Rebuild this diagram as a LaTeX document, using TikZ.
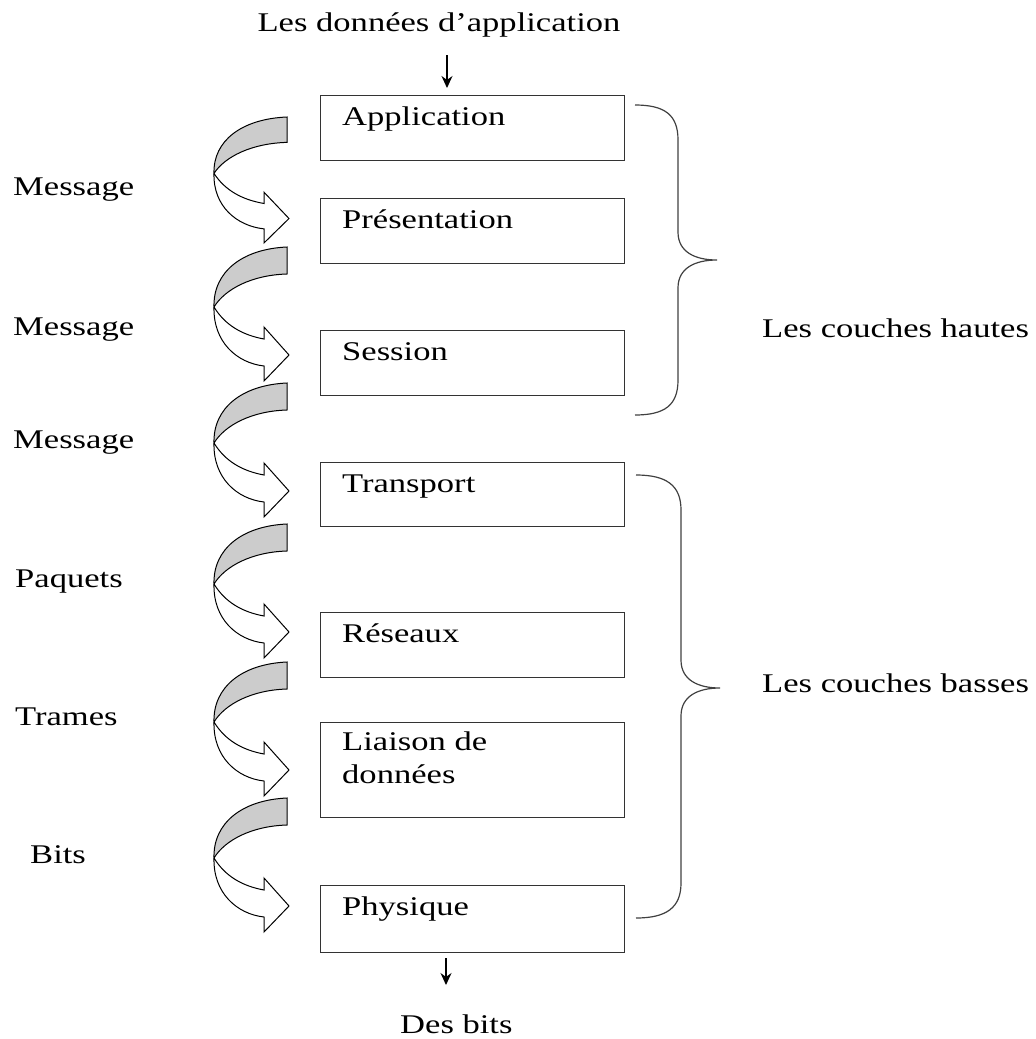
\documentclass[tikz,border=0pt]{standalone}
\usepackage{fontspec}
\setmainfont{Liberation Serif}[FakeStretch=1.28]
\usetikzlibrary{arrows.meta}

\begin{document}
\begin{tikzpicture}[
		x=1pt, y=-1pt,
		>={Stealth[length=12pt,width=11pt]},
		every node/.style={font=\fontsize{27}{33}\selectfont, inner sep=0pt},
		couche/.style={draw=black!80, line width=1.3pt, anchor=north west, minimum width=304pt},
		nom/.style={anchor=base west},
		accolade/.style={draw=black!75, line width=1.2pt},
		pics/renvoi/.style={code={
			\filldraw[fill=gray!40, draw=black, line width=1pt] (0,0) -- (0,27) .. controls (-35,28) and (-62,42) .. (-73,60) .. controls (-74,25) and (-45,2) .. (0,0) -- cycle;
			\filldraw[fill=white, draw=black, line width=1pt] (-73,60) .. controls (-74,95) and (-50,116) .. (-23,119) -- (-23,134) -- (2,108) -- (-23,80) -- (-23,92) .. controls (-45,88) and (-62,78) .. (-73,60) -- cycle;
		}}
	]
		\useasboundingbox (0,0) rectangle (1036,1039);

		% Couches
		\node[couche, minimum height=65pt] (app) at (320,95) {};
		\node[couche, minimum height=65pt] (pres) at (320,198) {};
		\node[couche, minimum height=65pt] (ses) at (320,330) {};
		\node[couche, minimum height=64pt] (trans) at (320,462) {};
		\node[couche, minimum height=65pt] (res) at (320,612) {};
		\node[couche, minimum height=95pt] (liais) at (320,722) {};
		\node[couche, minimum height=67pt] (phy) at (320,885) {};

		% Noms des couches
		\node[nom] (appT) at ([shift={(22,30)}]app.north west) {Application};
		\node[nom] (presT) at ([shift={(22,30)}]pres.north west) {Présentation};
		\node[nom] (sesT) at ([shift={(22,30)}]ses.north west) {Session};
		\node[nom] (transT) at ([shift={(22,30)}]trans.north west) {Transport};
		\node[nom] (resT) at ([shift={(22,30)}]res.north west) {Réseaux};
		\node[nom] (liaisT) at ([shift={(22,28)}]liais.north west) {Liaison de};
		\node[nom] (liaisT2) at ([shift={(22,61)}]liais.north west) {données};
		\node[nom] (phyT) at ([shift={(22,30)}]phy.north west) {Physique};

		% Entree et sortie
		\node[anchor=base] (donnees) at (439,31) {Les données d’application};
		\node[nom] (bits) at (400,1033) {Des bits};
		\coordinate (entree) at (447,55);
		\coordinate (sortie) at (446,985);
		\draw[->, line width=1.2pt, shorten >=7pt] (entree) -- (entree |- app.north);
		\draw[->, line width=1.2pt, shorten <=5pt] (sortie |- phy.south) -- (sortie);

		% Renvois
		\pic[yscale=0.94] (r1) at (287,117) {renvoi};
		\pic (r2) at (287,247) {renvoi};
		\pic (r3) at (287,383) {renvoi};
		\pic (r4) at (287,524) {renvoi};
		\pic (r5) at (287,662) {renvoi};
		\pic (r6) at (287,798) {renvoi};

		% Unites
		\node[nom] (u1) at (13,195) {Message};
		\node[nom] (u2) at (13,335) {Message};
		\node[nom] (u3) at (13,448) {Message};
		\node[nom] (u4) at (15,587) {Paquets};
		\node[nom] (u5) at (15,725) {Trames};
		\node[nom] (u6) at (30,863) {Bits};

		% Accolades
		\draw[accolade] (635,105) .. controls (665,105) and (678,115) .. (678,140) -- (678,232) .. controls (678,252) and (695,260) .. (717,260) .. controls (695,260) and (678,268) .. (678,288) -- (678,380) .. controls (678,405) and (665,415) .. (635,415);
		\draw[accolade] (636,475) .. controls (666,475) and (681,485) .. (681,510) -- (681,660) .. controls (681,680) and (698,688) .. (720,688) .. controls (698,688) and (681,696) .. (681,716) -- (681,883) .. controls (681,908) and (666,918) .. (636,918);
		\node[nom] (hautes) at (762,337) {Les couches hautes};
		\node[nom] (basses) at (762,692) {Les couches basses};
	\end{tikzpicture}
\end{document}
